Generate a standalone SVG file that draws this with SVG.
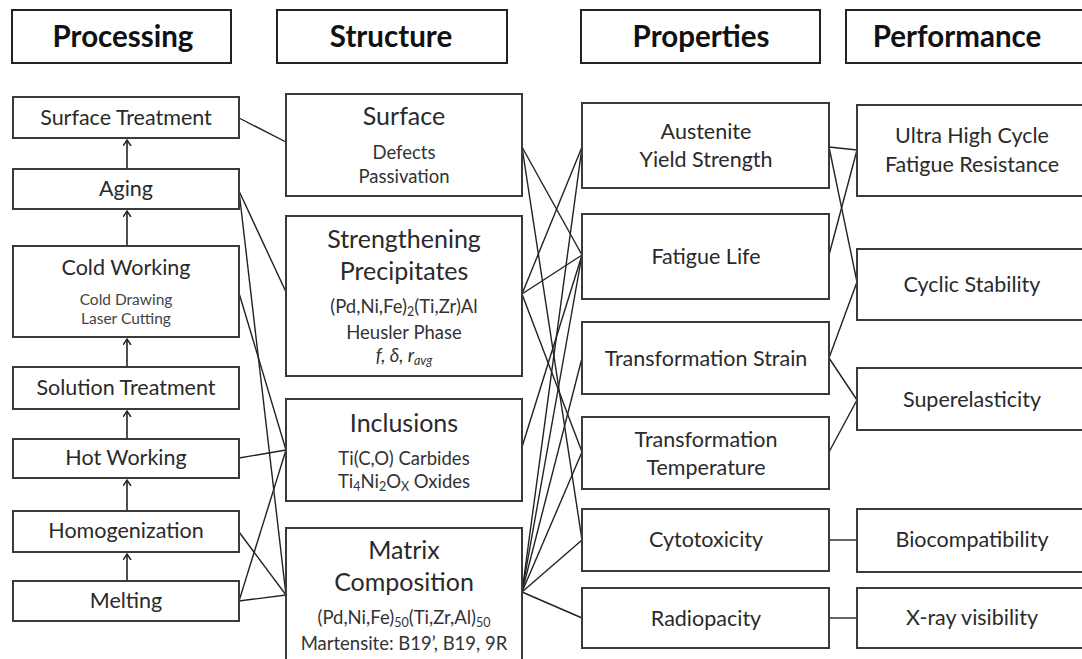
<svg xmlns="http://www.w3.org/2000/svg" width="1082" height="659" viewBox="0 0 1082 659">
<style>
  .box { fill: #ffffff; stroke: #3a3a3a; stroke-width: 2; }
  .hbox { fill: #ffffff; stroke: #222222; stroke-width: 2; }
  .h { font-family: Lato, "Open Sans", sans-serif; font-weight: bold; font-size: 29.5px; fill: #111111; text-anchor: middle; }
  .t { font-family: Lato, "Open Sans", sans-serif; font-size: 21.5px; fill: #2a2a2a; text-anchor: middle; }
  .tl { font-family: Lato, "Open Sans", sans-serif; font-size: 25px; fill: #2a2a2a; text-anchor: middle; }
  .s { font-family: Lato, "Open Sans", sans-serif; font-size: 18.5px; fill: #333333; text-anchor: middle; }
  .ss { font-family: Lato, "Open Sans", sans-serif; font-size: 15.5px; fill: #444444; text-anchor: middle; }
  .sub { font-size: 12.5px; }
  .c line { stroke: #222222; stroke-width: 1.4; fill: none; }
  .arr { stroke: #222222; stroke-width: 1.6; fill: none; marker-end: url(#ah); }
</style>
<defs>
  <marker id="ah" markerUnits="userSpaceOnUse" markerWidth="10" markerHeight="10" refX="6" refY="4" orient="auto">
    <path d="M0,0 L6,4 L0,8" fill="none" stroke="#222222" stroke-width="1.5"/>
  </marker>
</defs>
<rect width="1082" height="659" fill="#ffffff"/>

<!-- connectors -->
<g id="connectors" class="c">
  <line x1="239" y1="118" x2="286" y2="142"/>
  <line x1="239" y1="191" x2="286" y2="292"/>
  <line x1="239" y1="191" x2="286" y2="595"/>
  <line x1="239" y1="293" x2="286" y2="450"/>
  <line x1="239" y1="458" x2="286" y2="450"/>
  <line x1="239" y1="532" x2="286" y2="595"/>
  <line x1="239" y1="601" x2="286" y2="450"/>
  <line x1="239" y1="601" x2="286" y2="595"/>

  <line x1="522" y1="147" x2="582" y2="255"/>
  <line x1="522" y1="147" x2="582" y2="540"/>
  <line x1="522" y1="294" x2="582" y2="147"/>
  <line x1="522" y1="294" x2="582" y2="255"/>
  <line x1="522" y1="294" x2="582" y2="452"/>
  <line x1="522" y1="447" x2="582" y2="255"/>
  <line x1="522" y1="592" x2="582" y2="147"/>
  <line x1="522" y1="592" x2="582" y2="255"/>
  <line x1="522" y1="592" x2="582" y2="358"/>
  <line x1="522" y1="592" x2="582" y2="452"/>
  <line x1="522" y1="592" x2="582" y2="540"/>
  <line x1="522" y1="592" x2="582" y2="618"/>

  <line x1="829" y1="147" x2="857" y2="150"/>
  <line x1="829" y1="147" x2="857" y2="282"/>
  <line x1="829" y1="255" x2="857" y2="150"/>
  <line x1="829" y1="358" x2="857" y2="282"/>
  <line x1="829" y1="358" x2="857" y2="400"/>
  <line x1="829" y1="452" x2="857" y2="400"/>
  <line x1="829" y1="540" x2="857" y2="540"/>
  <line x1="829" y1="618" x2="857" y2="618"/>

  <path class="arr" d="M127,169 L127,140"/>
  <path class="arr" d="M127,246 L127,211"/>
  <path class="arr" d="M127,367 L127,339"/>
  <path class="arr" d="M127,439 L127,411"/>
  <path class="arr" d="M127,511 L127,480"/>
  <path class="arr" d="M127,581 L127,554"/>
</g>

<!-- headers -->
<g id="hdr-processing"><rect class="hbox" x="12" y="10" width="219" height="53"/><text class="h" x="123" y="47">Processing</text></g>
<g id="hdr-structure"><rect class="hbox" x="277" y="10" width="230" height="53"/><text class="h" x="391" y="47">Structure</text></g>
<g id="hdr-properties"><rect class="hbox" x="581" y="10" width="239" height="53"/><text class="h" x="701" y="47">Properties</text></g>
<g id="hdr-performance"><rect class="hbox" x="846" y="10" width="250" height="53"/><text class="h" x="957" y="47">Performance</text></g>

<!-- processing -->
<g id="p-surface"><rect class="box" x="13" y="97" width="226" height="41"/><text class="t" x="126" y="125">Surface Treatment</text></g>
<g id="p-aging"><rect class="box" x="13" y="169" width="226" height="40"/><text class="t" x="126" y="196">Aging</text></g>
<g id="p-cold"><rect class="box" x="13" y="246" width="226" height="91"/><text class="t" x="126" y="275">Cold Working</text><text class="ss" x="126" y="305">Cold Drawing</text><text class="ss" x="126" y="324">Laser Cutting</text></g>
<g id="p-solution"><rect class="box" x="13" y="367" width="226" height="42"/><text class="t" x="126" y="395">Solution Treatment</text></g>
<g id="p-hot"><rect class="box" x="13" y="439" width="226" height="39"/><text class="t" x="126" y="465">Hot Working</text></g>
<g id="p-homog"><rect class="box" x="13" y="511" width="226" height="41"/><text class="t" x="126" y="538">Homogenization</text></g>
<g id="p-melting"><rect class="box" x="13" y="581" width="226" height="40"/><text class="t" x="126" y="608">Melting</text></g>

<!-- structure -->
<g id="s-surface"><rect class="box" x="286" y="94" width="236" height="102"/><text class="tl" x="404" y="125">Surface</text><text class="s" x="404" y="159">Defects</text><text class="s" x="404" y="183">Passivation</text></g>
<g id="s-precip"><rect class="box" x="286" y="216" width="236" height="160"/><text class="tl" x="404" y="248">Strengthening</text><text class="tl" x="404" y="280">Precipitates</text>
  <text class="s" x="404" y="313">(Pd,Ni,Fe)<tspan class="sub" dy="3">2</tspan><tspan dy="-3">(Ti,Zr)Al</tspan></text>
  <text class="s" x="404" y="339">Heusler Phase</text>
  <text class="s" x="404" y="362" font-style="italic">f, δ, r<tspan class="sub" dy="3">avg</tspan></text></g>
<g id="s-incl"><rect class="box" x="286" y="399" width="236" height="102"/><text class="tl" x="404" y="432">Inclusions</text><text class="s" x="404" y="465">Ti(C,O) Carbides</text>
  <text class="s" x="404" y="488">Ti<tspan class="sub" dy="3">4</tspan><tspan dy="-3">Ni</tspan><tspan class="sub" dy="3">2</tspan><tspan dy="-3">O</tspan><tspan class="sub" dy="3">X</tspan><tspan dy="-3"> Oxides</tspan></text></g>
<g id="s-matrix"><rect class="box" x="286" y="528" width="236" height="145"/><text class="tl" x="404" y="559">Matrix</text><text class="tl" x="404" y="591">Composition</text>
  <text class="s" x="404" y="624">(Pd,Ni,Fe)<tspan class="sub" dy="3">50</tspan><tspan dy="-3">(Ti,Zr,Al)</tspan><tspan class="sub" dy="3">50</tspan></text>
  <text class="s" x="404" y="650">Martensite: B19’, B19, 9R</text></g>

<!-- properties -->
<g id="r-ays"><rect class="box" x="582" y="103" width="247" height="85"/><text class="t" x="706" y="139">Austenite</text><text class="t" x="706" y="167">Yield Strength</text></g>
<g id="r-fatigue"><rect class="box" x="582" y="214" width="247" height="85"/><text class="t" x="706" y="264">Fatigue Life</text></g>
<g id="r-tstrain"><rect class="box" x="582" y="322" width="247" height="72"/><text class="t" x="706" y="366">Transformation Strain</text></g>
<g id="r-ttemp"><rect class="box" x="582" y="417" width="247" height="72"/><text class="t" x="706" y="447">Transformation</text><text class="t" x="706" y="475">Temperature</text></g>
<g id="r-cyto"><rect class="box" x="582" y="509" width="247" height="62"/><text class="t" x="706" y="547">Cytotoxicity</text></g>
<g id="r-radio"><rect class="box" x="582" y="588" width="247" height="60"/><text class="t" x="706" y="626">Radiopacity</text></g>

<!-- performance -->
<g id="f-uhc"><rect class="box" x="857" y="105" width="240" height="91"/><text class="t" x="972" y="143">Ultra High Cycle</text><text class="t" x="972" y="172">Fatigue Resistance</text></g>
<g id="f-cyclic"><rect class="box" x="857" y="249" width="240" height="71"/><text class="t" x="972" y="292">Cyclic Stability</text></g>
<g id="f-super"><rect class="box" x="857" y="368" width="240" height="62"/><text class="t" x="972" y="407">Superelasticity</text></g>
<g id="f-bio"><rect class="box" x="857" y="509" width="240" height="63"/><text class="t" x="972" y="547">Biocompatibility</text></g>
<g id="f-xray"><rect class="box" x="857" y="588" width="240" height="60"/><text class="t" x="972" y="625">X-ray visibility</text></g>
</svg>
